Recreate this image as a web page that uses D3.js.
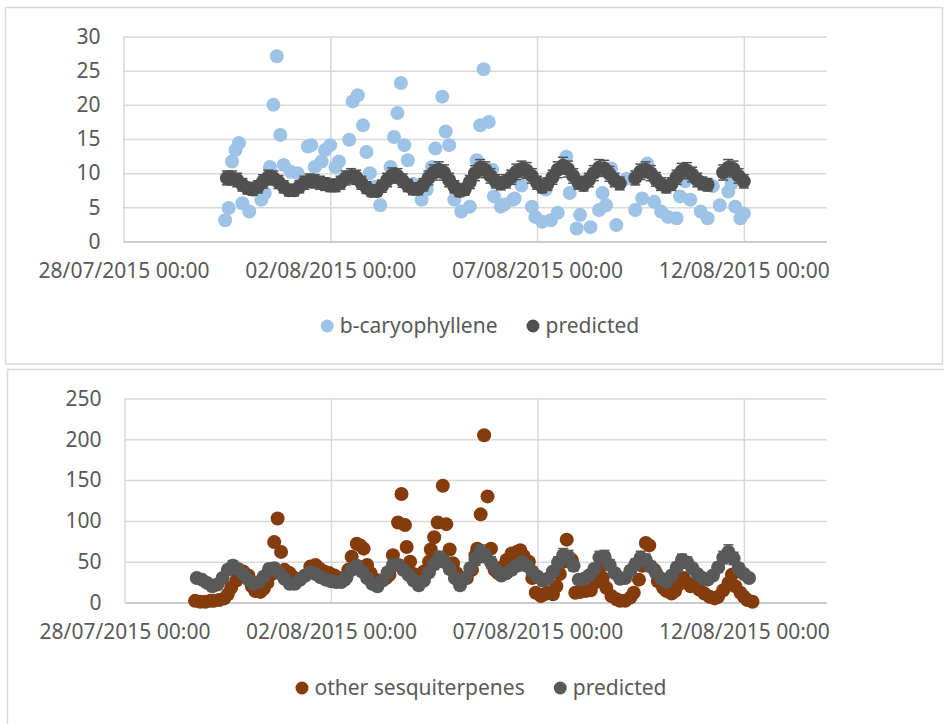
<!DOCTYPE html>
<html>
<head>
<meta charset="utf-8">
<script src="https://cdn.jsdelivr.net/npm/d3@7"></script>
<style>
  body { margin: 0; background: #fff; }
  svg { display: block; }
</style>
</head>
<body>
<svg id="chart" width="944" height="724"></svg>
<script>
// ---- shared time axis ----
const xDomain = ["2015-07-28 00:00", "2015-08-14 00:00"];
const xTicks = ["2015-07-28 00:00", "2015-08-02 00:00", "2015-08-07 00:00", "2015-08-12 00:00"];
const xTickLabels = ["28/07/2015 00:00", "02/08/2015 00:00", "07/08/2015 00:00", "12/08/2015 00:00"];

// ---- b-caryophyllene panel ----
const caryTicks = [0, 5, 10, 15, 20, 25, 30];
const caryTimes = [
  "2015-07-30 11:00","2015-07-30 13:00","2015-07-30 15:00","2015-07-30 17:00","2015-07-30 19:00","2015-07-30 21:00",
  "2015-07-31 01:00","2015-07-31 04:00","2015-07-31 08:00","2015-07-31 10:00","2015-07-31 13:00","2015-07-31 15:00",
  "2015-07-31 17:00","2015-07-31 19:00","2015-07-31 21:00","2015-08-01 01:00","2015-08-01 05:00","2015-08-01 08:00",
  "2015-08-01 11:00","2015-08-01 13:00","2015-08-01 15:00","2015-08-01 19:00","2015-08-01 21:00","2015-08-02 00:00",
  "2015-08-02 03:00","2015-08-02 05:00","2015-08-02 08:00","2015-08-02 11:00","2015-08-02 13:00","2015-08-02 16:00",
  "2015-08-02 19:00","2015-08-02 21:00","2015-08-02 23:00","2015-08-03 02:00","2015-08-03 05:00","2015-08-03 11:00",
  "2015-08-03 13:00","2015-08-03 15:00","2015-08-03 17:00","2015-08-03 19:00","2015-08-03 21:00","2015-08-04 00:00",
  "2015-08-04 05:00","2015-08-04 08:00","2015-08-04 11:00","2015-08-04 13:00","2015-08-04 17:00","2015-08-04 19:00",
  "2015-08-04 21:00","2015-08-05 00:00","2015-08-05 04:00","2015-08-05 06:00","2015-08-05 09:00","2015-08-05 13:00",
  "2015-08-05 15:00","2015-08-05 17:00","2015-08-05 20:00","2015-08-05 22:00","2015-08-05 23:00","2015-08-06 03:00",
  "2015-08-06 05:00","2015-08-06 10:00","2015-08-06 11:00","2015-08-06 15:00","2015-08-06 21:00","2015-08-06 23:00",
  "2015-08-07 03:00","2015-08-07 05:00","2015-08-07 08:00","2015-08-07 12:00","2015-08-07 17:00","2015-08-07 19:00",
  "2015-08-07 23:00","2015-08-08 01:00","2015-08-08 04:00","2015-08-08 07:00","2015-08-08 12:00","2015-08-08 14:00",
  "2015-08-08 16:00","2015-08-08 19:00","2015-08-08 22:00","2015-08-09 04:00","2015-08-09 09:00","2015-08-09 13:00",
  "2015-08-09 16:00","2015-08-09 20:00","2015-08-10 00:00","2015-08-10 04:00","2015-08-10 09:00","2015-08-10 11:00",
  "2015-08-10 14:00","2015-08-10 17:00","2015-08-10 23:00","2015-08-11 03:00","2015-08-11 06:00","2015-08-11 10:00",
  "2015-08-11 15:00","2015-08-11 17:00","2015-08-11 19:00","2015-08-11 22:00","2015-08-12 00:00"
];
const caryValues = [
  3.1, 4.9, 11.7, 13.4, 14.4, 5.6,
  4.4, 7.8, 6.1, 7.1, 10.9, 20.0,
  27.1, 15.6, 11.2, 10.2, 10.0, 8.6,
  13.9, 14.1, 10.9, 11.7, 13.4, 14.1,
  10.9, 11.7, 9.2, 14.9, 20.5, 21.4,
  17.0, 13.1, 10.0, 8.0, 5.3, 10.9,
  15.3, 18.8, 23.2, 14.1, 11.9, 8.4,
  6.1, 7.6, 10.9, 13.6, 21.2, 16.1,
  14.1, 6.1, 4.4, 7.8, 5.1, 11.9,
  17.0, 25.2, 17.5, 10.5, 6.6, 5.1,
  5.4, 6.1, 6.3, 8.2, 5.1, 3.6,
  2.9, 7.6, 3.1, 4.2, 12.4, 7.1,
  1.9, 3.9, 8.6, 2.1, 4.6, 7.1,
  5.3, 10.7, 2.4, 9.2, 4.6, 6.3,
  11.4, 5.8, 4.4, 3.6, 3.4, 6.6,
  8.8, 6.1, 4.4, 3.4, 8.1, 5.3,
  7.3, 8.5, 5.1, 3.4, 4.1
];
// model output every 3 hours from the start time (null = no output)
const caryPredStart = "2015-07-30 12:00";
const caryPredicted = [
  9.3, 9.3, 9.0, 8.3, 7.8, 7.6, 8.0, 8.8, 9.4, 9.3,
  8.7, 8.0, 7.5, 7.5, 8.0, 8.6, 8.9, 8.8, 8.6, 8.4,
  8.2, 8.2, 8.6, 9.3, 9.6, 9.4, 8.6, 7.9, 7.4, 7.4,
  8.1, 9.0, 9.7, 9.6, 8.9, 8.2, 7.7, 7.7, 8.3, 9.3,
  10.1, 10.5, 10.1, 9.0, 8.0, 7.4, 7.6, 8.7, 10.0, 10.8,
  10.5, 9.6, 8.8, 8.5, 8.8, 9.4, 10.2, 10.6, 10.4, 9.6,
  8.6, 8.0, 8.4, 9.4, 10.5, 11.1, 10.6, 9.6, 8.6, 8.3,
  9.0, 10.0, 10.8, 10.7, 9.9, 9.0, 8.5, null, null, 9.3,
  10.2, 10.5, 10.0, 9.1, 8.4, 8.0, 8.4, 9.4, 10.3, 10.4,
  9.8, 9.0, 8.5, 8.3, null, null, 10.1, 10.8, 10.6, 9.6,
  8.8
];

// ---- other sesquiterpenes panel ----
const otherTicks = [0, 50, 100, 150, 200, 250];
const otherTimes = [
  "2015-07-29 17:00","2015-07-29 20:00","2015-07-29 23:00","2015-07-30 02:00","2015-07-30 04:00","2015-07-30 07:00",
  "2015-07-30 10:00","2015-07-30 12:00","2015-07-30 14:00","2015-07-30 17:00","2015-07-30 19:00","2015-07-30 21:00",
  "2015-07-31 00:00","2015-07-31 02:00","2015-07-31 04:00","2015-07-31 07:00","2015-07-31 09:00","2015-07-31 11:00",
  "2015-07-31 13:00","2015-07-31 15:00","2015-07-31 17:00","2015-07-31 19:00","2015-07-31 21:00","2015-08-01 00:00",
  "2015-08-01 03:00","2015-08-01 06:00","2015-08-01 09:00","2015-08-01 12:00","2015-08-01 15:00","2015-08-01 17:00",
  "2015-08-01 20:00","2015-08-01 23:00","2015-08-02 02:00","2015-08-02 05:00","2015-08-02 08:00","2015-08-02 10:00",
  "2015-08-02 12:00","2015-08-02 15:00","2015-08-02 17:00","2015-08-02 19:00","2015-08-02 21:00","2015-08-02 23:00",
  "2015-08-03 02:00","2015-08-03 05:00","2015-08-03 08:00","2015-08-03 10:00","2015-08-03 12:00","2015-08-03 15:00",
  "2015-08-03 17:00","2015-08-03 19:00","2015-08-03 20:00","2015-08-03 22:00","2015-08-04 00:00","2015-08-04 03:00",
  "2015-08-04 06:00","2015-08-04 09:00","2015-08-04 10:00","2015-08-04 12:00","2015-08-04 14:00","2015-08-04 17:00",
  "2015-08-04 19:00","2015-08-04 21:00","2015-08-04 23:00","2015-08-05 01:00","2015-08-05 04:00","2015-08-05 07:00",
  "2015-08-05 10:00","2015-08-05 12:00","2015-08-05 13:00","2015-08-05 15:00","2015-08-05 17:00","2015-08-05 19:00",
  "2015-08-05 21:00","2015-08-05 23:00","2015-08-06 01:00","2015-08-06 04:00","2015-08-06 06:00","2015-08-06 09:00",
  "2015-08-06 12:00","2015-08-06 14:00","2015-08-06 16:00","2015-08-06 19:00","2015-08-06 21:00","2015-08-06 23:00",
  "2015-08-07 02:00","2015-08-07 04:00","2015-08-07 06:00","2015-08-07 09:00","2015-08-07 11:00","2015-08-07 13:00",
  "2015-08-07 15:00","2015-08-07 17:00","2015-08-07 20:00","2015-08-07 22:00","2015-08-08 01:00","2015-08-08 04:00",
  "2015-08-08 07:00","2015-08-08 10:00","2015-08-08 12:00","2015-08-08 14:00","2015-08-08 16:00","2015-08-08 19:00",
  "2015-08-08 22:00","2015-08-09 00:00","2015-08-09 03:00","2015-08-09 06:00","2015-08-09 08:00","2015-08-09 11:00",
  "2015-08-09 13:00","2015-08-09 15:00","2015-08-09 17:00","2015-08-09 20:00","2015-08-09 22:00","2015-08-10 01:00",
  "2015-08-10 03:00","2015-08-10 06:00","2015-08-10 08:00","2015-08-10 10:00","2015-08-10 13:00","2015-08-10 15:00",
  "2015-08-10 17:00","2015-08-10 20:00","2015-08-10 22:00","2015-08-11 01:00","2015-08-11 04:00","2015-08-11 07:00",
  "2015-08-11 09:00","2015-08-11 12:00","2015-08-11 15:00","2015-08-11 17:00","2015-08-11 19:00","2015-08-11 22:00",
  "2015-08-12 00:00","2015-08-12 02:00","2015-08-12 05:00"
];
const otherValues = [
  2, 1, 1, 2, 2, 3,
  5, 10, 18, 27, 35, 38,
  33, 20, 14, 13, 17, 24,
  34, 74, 103, 62, 40, 36,
  30, 28, 33, 44, 46, 42,
  38, 36, 33, 30, 28, 40,
  56, 72, 70, 66, 46, 36,
  28, 27, 30, 34, 58, 98,
  133, 95, 68, 50, 35, 30,
  38, 50, 65, 80, 98, 143,
  96, 65, 48, 36, 28, 30,
  40, 58, 66, 108, 205, 130,
  66, 40, 36, 44, 52, 60,
  62, 64, 57, 50, 30, 12,
  8, 10, 12, 10, 20, 35,
  50, 77, 52, 12, 13, 14,
  15, 25, 42, 30, 18, 8,
  4, 2, 2, 6, 12, 28,
  45, 73, 70, 40, 26, 18,
  14, 11, 14, 22, 30, 24,
  20, 22, 16, 11, 7, 5,
  7, 15, 24, 34, 20, 12,
  7, 3, 1
];
const otherPredStart = "2015-07-29 18:00";
const otherPredicted = [
  30, 28, 24, 20, 22, 30, 40, 45, 41, 35,
  28, 23, 25, 32, 41, 42, 36, 29, 23, 23,
  28, 33, 37, 35, 31, 28, 26, 25, 25, 31,
  40, 45, 38, 30, 23, 20, 27, 37, 46, 46,
  40, 34, 27, 21, 27, 37, 47, 55, 50, 41,
  30, 21, 30, 42, 53, 62, 57, 49, 40, 33,
  36, 40, 45, 49, 45, 38, 32, 27, 29, 38,
  49, 58, 56, 45, 28, 29, 33, 41, 55, 56,
  46, 36, 29, 30, 39, 47, 55, 52, 44, 36,
  29, 25, 33, 43, 52, 49, 42, 35, 30, 28,
  33, 43, 55, 62, 54, 42, 35, 30
];
const predStepHours = 3;

// ---- drawing ----
const FONT = "'Noto Sans', 'Open Sans', sans-serif";
const TEXT = "#595959";
const GRID = "#d9d9d9";
const parse = d3.timeParse("%Y-%m-%d %H:%M");
const svg = d3.select("#chart");

function predictedPoints(start, values) {
  const t0 = parse(start);
  return values
    .map((v, i) => ({ t: d3.timeHour.offset(t0, i * predStepHours), v }))
    .filter(d => d.v !== null);
}

function drawPanel(cfg) {
  const g = svg.append("g");
  const { box, plot } = cfg;

  g.append("rect")
    .attr("x", box.x).attr("y", box.y).attr("width", box.w).attr("height", box.h)
    .attr("fill", "#fff").attr("stroke", GRID).attr("stroke-width", 1.5);

  const x = d3.scaleTime().domain(xDomain.map(parse)).range([plot.left, plot.right]);
  const y = d3.scaleLinear().domain([0, cfg.yMax]).range([plot.bottom, plot.top]);

  // horizontal gridlines and value labels
  const ya = g.append("g")
    .attr("transform", `translate(${plot.left},0)`)
    .call(d3.axisLeft(y).tickValues(cfg.yTicks).tickFormat(d3.format("d"))
      .tickSize(-(plot.right - plot.left)).tickPadding(23));
  ya.select(".domain").remove();
  ya.selectAll(".tick line").attr("stroke", GRID).attr("stroke-width", 1.5);
  ya.selectAll(".tick text")
    .attr("fill", TEXT).style("font-family", FONT).style("font-size", "21px");

  // vertical gridlines, date labels and the base axis line
  const xa = g.append("g")
    .attr("transform", `translate(0,${plot.bottom})`)
    .call(d3.axisBottom(x).tickValues(xTicks.map(parse))
      .tickFormat((d, i) => xTickLabels[i])
      .tickSize(-(plot.bottom - plot.top)).tickSizeOuter(0).tickPadding(22));
  xa.select(".domain").attr("stroke", "#cccccc").attr("stroke-width", 2);
  xa.selectAll(".tick line").attr("stroke", GRID).attr("stroke-width", 1.5);
  xa.selectAll(".tick text")
    .attr("fill", TEXT).style("font-family", FONT).style("font-size", "21px");

  const R = 7;

  // measured series
  const meas = cfg.measTimes.map((s, i) => ({ t: parse(s), v: cfg.measValues[i] }));
  g.append("g").selectAll("circle").data(meas).join("circle")
    .attr("cx", d => x(d.t)).attr("cy", d => y(d.v)).attr("r", R)
    .attr("fill", cfg.measColor);

  // predicted series with percentage error bars
  const pred = predictedPoints(cfg.predStart, cfg.predValues);
  const eb = g.append("g").attr("stroke", cfg.predColor).attr("stroke-width", 1.5);
  pred.forEach(d => {
    const cx = x(d.t), hi = y(d.v * (1 + cfg.errFrac)), lo = y(d.v * (1 - cfg.errFrac));
    eb.append("line").attr("x1", cx).attr("x2", cx).attr("y1", hi).attr("y2", lo);
    eb.append("line").attr("x1", cx - 5).attr("x2", cx + 5).attr("y1", hi).attr("y2", hi);
    eb.append("line").attr("x1", cx - 5).attr("x2", cx + 5).attr("y1", lo).attr("y2", lo);
  });
  g.append("g").selectAll("circle").data(pred).join("circle")
    .attr("cx", d => x(d.t)).attr("cy", d => y(d.v)).attr("r", R)
    .attr("fill", cfg.predColor);

  // legend, centred below the plot
  const items = [
    { label: cfg.measLabel, color: cfg.measColor },
    { label: "predicted", color: cfg.predColor }
  ];
  const lg = g.append("g");
  const entries = lg.selectAll("g").data(items).join("g");
  entries.append("circle").attr("r", 6.5).attr("cx", 6.5).attr("cy", 0).attr("fill", d => d.color);
  entries.append("text").text(d => d.label)
    .attr("x", 19).attr("dy", "0.35em")
    .attr("fill", TEXT).style("font-family", FONT).style("font-size", "21px");
  let offset = 0;
  const widths = [];
  entries.each(function () { widths.push(this.getBBox().width); });
  entries.attr("transform", (d, i) => {
    const tx = offset;
    offset += widths[i] + 29;
    return `translate(${tx},0)`;
  });
  const total = offset - 29;
  lg.attr("transform", `translate(${cfg.legendCx - total / 2},${cfg.legendY})`);
}

drawPanel({
  box: { x: 5.5, y: 7.5, w: 937, h: 356.5 },
  plot: { left: 123.5, right: 826.5, top: 36.5, bottom: 241.5 },
  yMax: 30, yTicks: caryTicks,
  measTimes: caryTimes, measValues: caryValues, measColor: "#9dc3e6", measLabel: "b-caryophyllene",
  predStart: caryPredStart, predValues: caryPredicted, predColor: "#505050", errFrac: 0.11,
  legendCx: 480, legendY: 326
});

drawPanel({
  box: { x: 7.5, y: 369.5, w: 945, h: 362 },
  plot: { left: 124.5, right: 826.5, top: 398.5, bottom: 602.5 },
  yMax: 250, yTicks: otherTicks,
  measTimes: otherTimes, measValues: otherValues, measColor: "#843c0c", measLabel: "other sesquiterpenes",
  predStart: otherPredStart, predValues: otherPredicted, predColor: "#595959", errFrac: 0.14,
  legendCx: 481, legendY: 688
});
</script>
</body>
</html>
